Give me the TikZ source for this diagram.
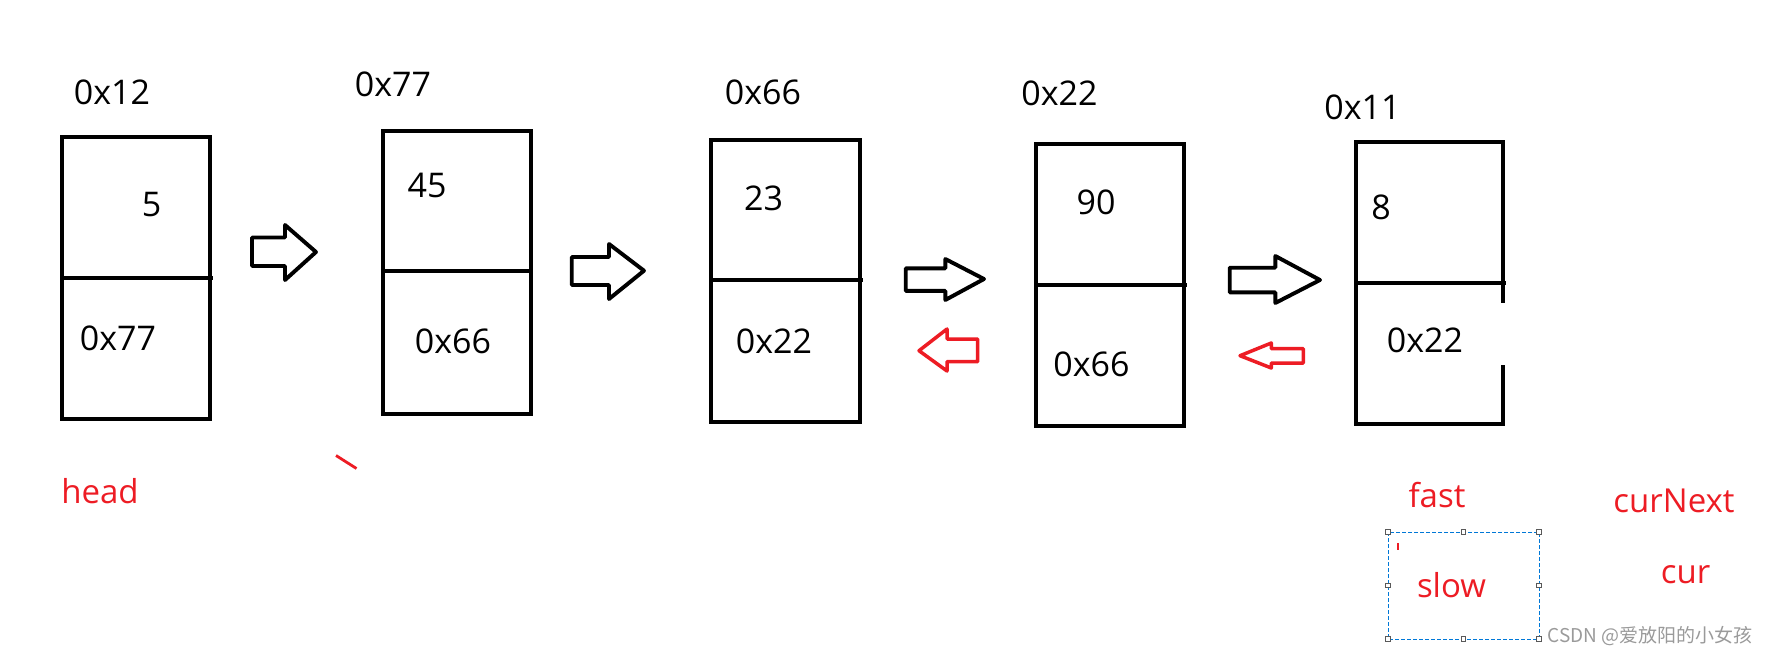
\documentclass[tikz,border=0pt]{standalone}
\usepackage{fontspec}
\setmainfont{Open Sans}
\newfontfamily\cjkfont{Noto Sans CJK SC}
\definecolor{pred}{HTML}{ED1C24}
\definecolor{selblue}{HTML}{0078D7}
\definecolor{wmgray}{HTML}{9A9A9A}
\newcommand\blockarrowR[8]{% shaft-left, shaft-top, shaft-bottom, head-base, head-top, head-bottom, tipx, tipy
  \draw[barrow] (#1,#2) -- (#4,#2) -- (#4,#5) -- (#7,#8) -- (#4,#6) -- (#4,#3) -- (#1,#3) -- cycle;}
\newcommand\blockarrowL[8]{% shaft-right, shaft-top, shaft-bottom, head-base, head-top, head-bottom, tipx, tipy
  \draw[rarrow] (#1,#2) -- (#4,#2) -- (#4,#5) -- (#7,#8) -- (#4,#6) -- (#4,#3) -- (#1,#3) -- cycle;}
\newcommand\handle[2]{\draw[handlebox] (#1-2.2,#2-2.2) rectangle (#1+2.2,#2+2.2);}
\begin{document}
\begin{tikzpicture}[x=1pt,y=-1pt,
  cell/.style={draw=black, line width=4pt, rectangle, inner sep=0pt, outer sep=0pt},
  wall/.style={draw=black, line width=4pt},
  lbl/.style={anchor=base, inner sep=0pt, font=\fontsize{34}{40}\selectfont},
  rlbl/.style={anchor=base, inner sep=0pt, text=pred, font=\fontsize{33}{40}\selectfont},
  barrow/.style={draw=black, line width=3.9pt, line join=round},
  rarrow/.style={draw=pred, line width=3.5pt, line join=round},
  handlebox/.style={draw=black!65, fill=white, line width=0.8pt}]
\useasboundingbox (0,0) rectangle (1771,656);

% ---- box 1 (0x12)
\node[cell, minimum width=147.7pt, minimum height=140.5pt] (b1t) at (136.15,207.25) {};
\node[cell, minimum width=147.7pt, minimum height=141.5pt] (b1b) at (136.15,348.25) {};
\draw[wall] (b1t.south east) -- ++(3,0);
\node[lbl] (a1) at (112,104) {0x12};
\node[lbl] (v1) at (151.5,216) {5};
\node[lbl] (n1) at (118,350) {0x77};

% ---- box 2 (0x77)
\node[cell, minimum width=147.5pt, minimum height=140pt] (b2t) at (456.75,201) {};
\node[cell, minimum width=147.5pt, minimum height=142.5pt] (b2b) at (456.75,342.25) {};
\node[lbl] (a2) at (393,96) {0x77};
\node[lbl] (v2) at (427,197) {45};
\node[lbl] (n2) at (453,353) {0x66};

% ---- box 3 (0x66)
\node[cell, minimum width=148.4pt, minimum height=140.6pt] (b3t) at (785.5,210) {};
\node[cell, minimum width=148.4pt, minimum height=141.7pt] (b3b) at (785.5,351.15) {};
\draw[wall] (b3t.south east) -- ++(3,0);
\node[lbl] (a3) at (763,104) {0x66};
\node[lbl] (v3) at (763.5,210) {23};
\node[lbl] (n3) at (774,353) {0x22};

% ---- box 4 (0x22)
\node[cell, minimum width=147.9pt, minimum height=141pt] (b4t) at (1109.75,214.2) {};
\node[cell, minimum width=147.9pt, minimum height=141.3pt] (b4b) at (1109.75,355.35) {};
\draw[wall] (b4t.south east) -- ++(3,0);
\node[lbl] (a4) at (1059.5,105) {0x22};
\node[lbl] (v4) at (1096,214) {90};
\node[lbl] (n4) at (1091.5,376.7) {0x66};

% ---- box 5 (0x11), open on the right of its lower half
\node[cell, minimum width=147.5pt, minimum height=140.5pt] (b5t) at (1429.55,212.25) {};
\coordinate (g1) at (1503.3,300.7);
\coordinate (g2) at (1503.3,367.3);
\draw[wall] (b5t.south east) -- ++(3,0);
\draw[wall, line cap=rect] (b5t.south east) -- (g1);
\draw[wall, line cap=rect] (g2) -- (1503.3,424) -- (1355.8,424) -- (b5t.south west);
\node[lbl] (a5) at (1362.5,119) {0x11};
\node[lbl] (v5) at (1381,219) {8};
\node[lbl] (n5) at (1425,352) {0x22};

% ---- block arrows (black, pointing right)
\blockarrowR{252}{237.5}{266}{285}{225}{280}{316}{252}
\blockarrowR{571.7}{257}{285}{609}{244}{299}{644}{270.7}
\blockarrowR{905.7}{268.3}{290.8}{945.3}{259}{300}{984}{279}
\blockarrowR{1229.7}{267.7}{292.3}{1275.3}{256}{303}{1320}{280}

% ---- block arrows (red, pointing left)
\blockarrowL{977.7}{339}{361.7}{947}{329}{371}{919}{350.7}
\blockarrowL{1303.3}{348.7}{363}{1271.3}{343}{368}{1240}{355.7}

% ---- red stray stroke
\draw[pred, line width=2.8pt] (336,455.5) -- (356.5,468.5);

% ---- red labels
\node[rlbl] (head) at (100,503) {head};
\node[rlbl] (fast) at (1437,507) {fast};
\node[rlbl] (curnext) at (1674,512) {curNext};
\node[rlbl] (slow) at (1451.5,597) {slow};
\node[rlbl] (cur) at (1685.5,583) {cur};

% ---- selection frame round "slow"
\draw[selblue, line width=1pt, dash pattern=on 4pt off 2pt] (1388,532) rectangle (1539,639);
\handle{1388}{532}\handle{1463.5}{532}\handle{1539}{532}
\handle{1388}{585.5}\handle{1539}{585.5}
\handle{1388}{639}\handle{1463.5}{639}\handle{1539}{639}
\draw[pred, line width=2pt] (1398,543) -- (1398,549.5);

% ---- watermark
\node[anchor=base, inner sep=0pt, text=wmgray, font=\cjkfont\fontsize{19}{22}\selectfont] (wm) at (1650,642.5) {CSDN @爱放阳的小女孩};
\end{tikzpicture}
\end{document}
